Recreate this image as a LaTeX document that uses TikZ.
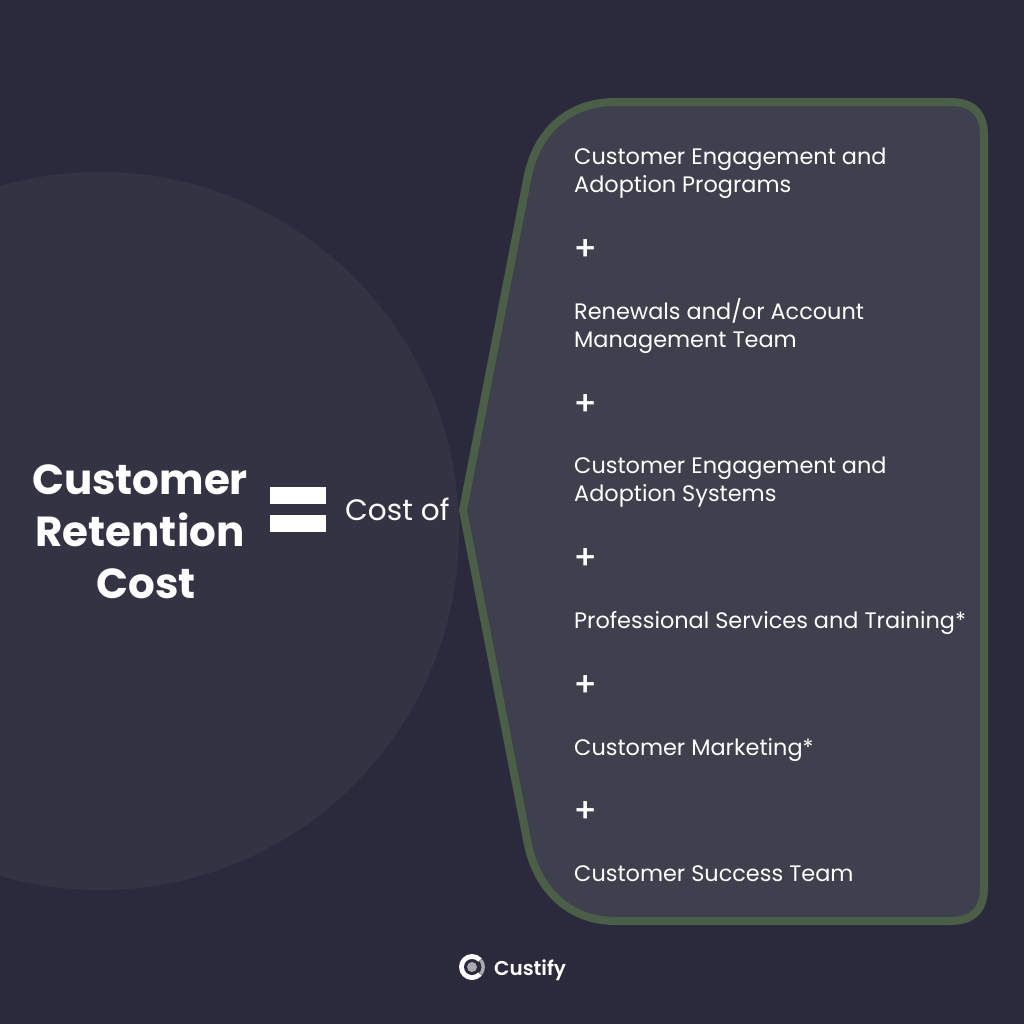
\documentclass[tikz,border=0pt]{standalone}
\usepackage{fontspec}
\setmainfont{Poppins}
\newfontfamily\pmed{Poppins Medium}
\newfontfamily\psemi{Poppins SemiBold}
\definecolor{bgc}{HTML}{2B2A3C}
\definecolor{circc}{HTML}{343344}
\definecolor{panelc}{HTML}{3F404E}
\definecolor{edgec}{HTML}{4B5E47}
\definecolor{logog}{HTML}{A9A9AF}
\tikzset{
  item/.style={anchor=west,text=white,font=\fontsize{22.4}{28}\selectfont,inner sep=0pt,align=left},
  plus/.style={anchor=center,text=white,font=\fontsize{34}{34}\selectfont\pmed,inner sep=0pt},
  bar/.style={fill=white,draw=none},
}
\begin{document}
\begin{tikzpicture}[x=1pt,y=-1pt]
\useasboundingbox (0,0) rectangle (1024,1024);
\fill[bgc] (0,0) rectangle (1024,1024);
\fill[circc] (100,531) circle (359);
\draw[fill=panelc,draw=edgec,line width=8pt,line join=round]
  (463,510) -- (527,180)
  .. controls (536,130) and (570,102) .. (615,102)
  -- (950,102)
  .. controls (973,102) and (984,113) .. (984,136)
  -- (984,887)
  .. controls (984,910) and (973,921) .. (950,921)
  -- (615,921)
  .. controls (570,921) and (536,890) .. (527,840)
  -- cycle;
\node[anchor=center,text=white,font=\fontsize{42}{52}\selectfont\bfseries,inner sep=0pt,align=center] (title) at (140,532) {Customer\\Retention\\\hspace{12pt}Cost};
\fill[bar] (270,487) rectangle (326,504);
\fill[bar] (270,515) rectangle (326,532);
\node[anchor=west,text=white,font=\fontsize{29.5}{32}\selectfont,inner sep=0pt] (costof) at (345,509) {Cost of};
\node[item] (a) at (574,173) {Customer Engagement and\\Adoption Programs};
\node[plus] (p1) at (586,250) {+};
\node[item] (b) at (574,326) {Renewals and/or Account\\Management Team};
\node[plus] (p2) at (586,405) {+};
\node[item] (c) at (574,482) {Customer Engagement and\\Adoption Systems};
\node[plus] (p3) at (586,559) {+};
\node[item] (d) at (574,623) {Professional Services and Training*};
\node[plus] (p4) at (586,686) {+};
\node[item] (e) at (574,750) {Customer Marketing*};
\node[plus] (p5) at (586,812) {+};
\node[item] (f) at (574,874) {Customer Success Team};
% logo
\fill[white] (472,967) circle (13);
\fill[bgc] (472,967) -- ++(40:16) arc (40:-40:16) -- cycle;
\fill[bgc] (472,967) circle (8);
\fill[logog] (472,967) circle (5);
\draw[logog,line width=3.5pt] (472,967) ++(38:11.2) arc (38:-38:11.2);
\node[anchor=west,text=white,font=\fontsize{20}{24}\selectfont\psemi,inner sep=0pt] (brand) at (494,970) {Custify};
\end{tikzpicture}
\end{document}
